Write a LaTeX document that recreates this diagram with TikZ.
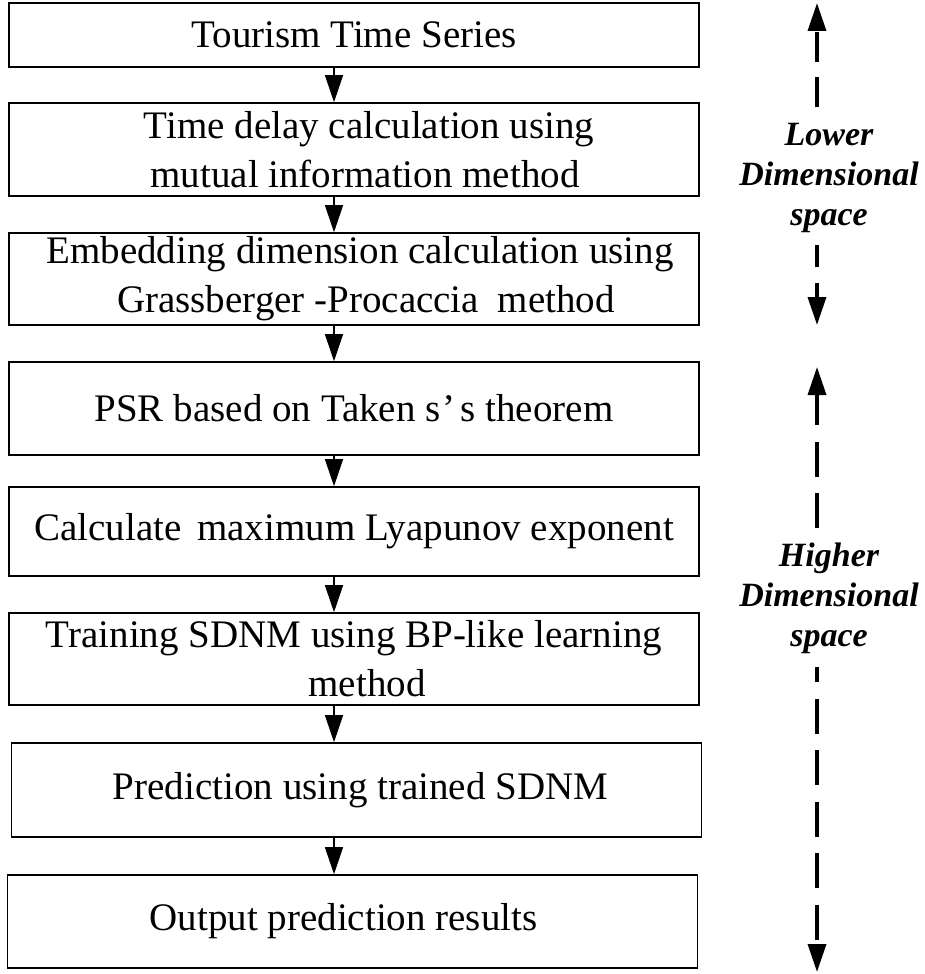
\documentclass[tikz,border=0pt]{standalone}
\usepackage{fontspec}
\setmainfont{Liberation Serif}
\usetikzlibrary{arrows.meta}
\begin{document}
\begin{tikzpicture}[x=1pt,y=-1pt,
  stage/.style={draw, line width=1.6pt, minimum width=690pt, inner sep=0pt,
    align=center, font=\fontsize{39}{49}\selectfont},
  flow/.style={line width=1.2pt, -{Triangle[length=27pt,width=18pt]}},
  span/.style={line width=3.5pt, -{Triangle[length=28pt,width=18pt]}},
  side/.style={align=center, inner sep=0pt,
    font=\bfseries\itshape\fontsize{34}{40}\selectfont}]

% canvas
\fill[white] (0,0) rectangle (925,974);
\useasboundingbox (0,0) rectangle (925,974);

% processing stages
\node[stage, minimum height=64pt] (s1) at (354,35) {Tourism Time Series};
\node[stage, minimum height=93pt] (s2) at (354,149.5)
  {\hspace*{30pt}Time delay calculation using\\\hspace*{22pt}mutual information method};
\node[stage, minimum height=92pt] (s3) at (354,279)
  {\hspace*{12pt}Embedding dimension calculation using\\\hspace*{24pt}Grassberger -Procaccia\hspace{9pt} method};
\node[stage, minimum height=93pt] (s4) at (354,408.5)
  {PSR based on Taken s\hspace{2pt}’\hspace{5pt}s theorem};
\node[stage, minimum height=89pt] (s5) at (354,531.5)
  {Calculate\hspace{6pt} maximum Lyapunov exponent};
\node[stage, minimum height=92pt] (s6) at (354,659)
  {Training SDNM using BP-like learning\\\hspace*{26pt}method};
\node[stage, minimum height=94pt] (s7) at (356.5,790) {\hspace*{8pt}Prediction using trained SDNM};
\node[stage, minimum height=93pt] (s8) at (352.5,921.5) {Output prediction results\hspace*{18pt}};

% flow arrows, all on one vertical line
\coordinate (ax) at (334,0);
\foreach \a/\b in {s1/s2,s2/s3,s3/s4,s4/s5,s5/s6,s6/s7,s7/s8}
  \draw[flow] (\a.south -| ax) -- (\b.north -| ax);

% side labels
\node[side] (lo) at (829,178) {Lower\\Dimensional\\space};
\node[side] (hi) at (829,598) {Higher\\Dimensional\\space};

% dashed range arrows
\coordinate (loUpA) at (817,107);
\coordinate (loUpB) at (817,3);
\coordinate (loDnA) at (817,245);
\coordinate (loDnB) at (817,325);
\coordinate (hiUpA) at (817,528);
\coordinate (hiUpB) at (817,367);
\coordinate (hiDnA) at (817,667);
\coordinate (hiDnB) at (817,972);

\draw[span, dash pattern=on 30pt off 15pt] (loUpA) -- (loUpB);
\draw[span, dash pattern=on 22pt off 16pt] (loDnA) -- (loDnB);
\draw[span, dash pattern=on 35pt off 16.5pt] (hiUpA) -- (hiUpB);
\draw[span, dash pattern=on 35pt off 16.5pt, dash phase=20pt] (hiDnA) -- (hiDnB);

\end{tikzpicture}
\end{document}
